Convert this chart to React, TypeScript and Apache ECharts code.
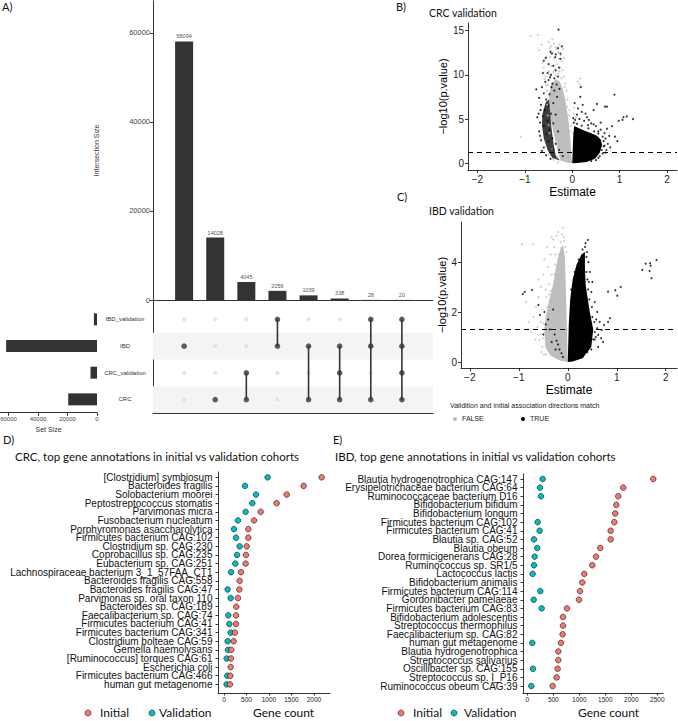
import React, { useEffect, useRef } from "react";
import * as echarts from "echarts";

// ---------- Panel A (UpSet) ----------
const intersectionSizes = [58094, 14028, 4045, 2056, 1039, 338, 28, 20];
const setNames = ["CRC", "CRC_validation", "IBD", "IBD_validation"]; // row 0 = bottom
const setSizes = [19500, 4400, 61600, 2100];
const intersectionMembers = [[2], [0], [0, 1], [2, 3], [0, 2], [0, 1, 2], [0, 2, 3], [0, 1, 2, 3]];
const barTicks = [0, 20000, 40000, 60000];
const setSizeTicks = [0, 20000, 40000, 60000];

// ---------- Panel B (CRC validation volcano) ----------
const crcGrayCore = [[0, 0], [-0.02, 1], [-0.04, 2.6], [-0.08, 4.85], [-0.14, 7], [-0.2, 8.4], [-0.26, 9.2], [-0.34, 9.5], [-0.44, 9.0], [-0.5, 7.6], [-0.45, 4.85], [-0.36, 2.6], [-0.25, 0.3], [-0.1, 0.05]];
const crcBlackLeftCore = [[-0.26, 0.3], [-0.35, 0.9], [-0.39, 2], [-0.44, 4], [-0.47, 6], [-0.49, 7.2], [-0.56, 6.9], [-0.63, 5.6], [-0.64, 4.3], [-0.6, 2.8], [-0.52, 1.5], [-0.42, 0.6]];
const crcBlackRightCore = [[0, 0], [0.01, 1.5], [0.02, 3], [0.04, 4.2], [0.12, 4.0], [0.25, 3.7], [0.4, 3.4], [0.52, 3.1], [0.6, 2.7], [0.63, 2.1], [0.58, 1.2], [0.48, 0.5], [0.3, 0.15], [0.1, 0.02]];
const crcFalsePoints = [[-0.88, 14.4], [-0.73, 14.5], [-0.5, 13.7], [-0.39, 13.5], [-0.45, 13.2], [-0.33, 12.9], [-1.09, 3.0], [0.17, 9.6], [0.16, 8.9], [0.05, 4.6], [0.08, 5.2], [0.03, 5.6], [-0.55, 12], [-0.6, 10.8], [-0.58, 9.5], [-0.55, 8.8], [-0.48, 13], [-0.42, 14], [-0.3, 12.5], [-0.22, 11.5], [-0.2, 10.5], [-0.15, 9], [-0.18, 9.8], [-0.25, 10.8], [-0.32, 11.2], [-0.38, 11.8], [-0.44, 11], [-0.5, 10.4], [-0.28, 11.8], [-0.36, 10.6], [-0.41, 12.5], [-0.24, 12.2], [-0.12, 8.2], [-0.1, 7.2], [-0.06, 6], [-0.53, 8.2], [-0.56, 9.8], [-0.47, 12], [-0.35, 13.1], [-0.27, 13.4], [-0.62, 11.4], [0.02, 3.4], [0.04, 6.3], [0.12, 9.2], [-0.03, 4.2], [-0.7, 12.8], [-0.65, 13.4], [-0.2, 12.9], [-0.18, 11.9], [-0.5, 1.0], [-0.4, 0.4], [-0.3, 0.1], [-0.46, 9.9], [-0.4, 10.3], [-0.3, 10.1], [-0.23, 9.6], [-0.52, 8.9], [-0.35, 9.9], [-0.27, 10.4], [-0.16, 8.6], [-0.48, 3.4], [-0.5, 4.3], [-0.52, 5.4], [-0.53, 6.6], [-0.42, 1.6], [-0.32, 0.7], [-0.07, 5.4], [-0.05, 3.6], [-0.11, 6.4]];
const crcTruePoints = [[-0.29, 15.1], [-0.46, 12.6], [-0.36, 12.0], [-0.6, 11.6], [-0.25, 12.4], [-0.22, 13.2], [-0.76, 8.35], [-0.67, 6.0], [-0.74, 5.2], [0.17, 7.5], [0.18, 8.6], [0.89, 7.75], [0.73, 6.4], [0.69, 6.4], [0.52, 6.7], [0.45, 6.0], [1.08, 5.2], [1.15, 5.3], [1.28, 5.0], [0.98, 4.8], [1.06, 4.9], [0.73, 3.9], [0.84, 4.2], [0.31, 5.2], [-0.4, 11], [-0.35, 10.5], [-0.45, 10], [-0.5, 9.4], [-0.3, 9.8], [-0.42, 9], [-0.38, 8.2], [-0.48, 7.8], [-0.55, 7.2], [-0.32, 7.5], [-0.4, 6.8], [-0.5, 6.5], [-0.58, 6], [-0.45, 5.6], [-0.35, 5.5], [-0.62, 5.3], [-0.52, 4.8], [-0.4, 4.5], [-0.6, 4.2], [-0.48, 3.8], [-0.3, 3.6], [-0.55, 3.3], [-0.42, 2.8], [-0.35, 2.2], [-0.5, 2.5], [-0.28, 1.5], [-0.4, 1.6], [-0.2, 0.8], [-0.25, 11.8], [-0.35, 12.3], [-0.28, 10.8], [-0.3, 13], [-0.43, 12.4], [-0.5, 11.2], [-0.33, 8.9], [-0.27, 8.4], [-0.44, 8.6], [-0.52, 10.2], [-0.7, 7.4], [-0.64, 8.6], [-0.68, 4.6], [-0.7, 3.6], [-0.66, 2.6], [-0.6, 1.8], [-0.66, 6.6], [-0.6, 7.9], [-0.57, 9.2], [-0.62, 10.2], [-0.47, 9.7], [-0.38, 9.6], [-0.56, 11.9], [-0.68, 3.1], [-0.71, 5.6], [-0.64, 1.4], [-0.55, 0.9], [-0.46, 0.5], [0.7, 2.8], [0.75, 2.2], [0.8, 1.8], [0.68, 3.4], [0.6, 3.8], [0.5, 4.2], [0.4, 4.5], [0.25, 4.8], [0.15, 5], [0.1, 5.5], [0.2, 5.8], [0.35, 4.9], [0.55, 3.6], [0.62, 1.5], [0.7, 1.2], [0.58, 0.8], [0.9, 3], [0.95, 2.5], [0.12, 6.2], [0.22, 6.6], [0.28, 5.6], [0.05, 6.8], [0.6, 4.6], [0.78, 3.1], [0.45, 4.4], [0.33, 4.3], [0.06, 4.9], [0.66, 1.9], [0.72, 1.5], [0.66, 2.5], [0.64, 3.0], [0.55, 3.35], [0.46, 3.6], [0.34, 3.95], [0.2, 4.25], [0.1, 4.45], [0.03, 4.6], [0.68, 2.0], [0.64, 1.1], [0.55, 0.6], [0.5, 0.35], [0.4, 0.25], [0.02, 5.1]];

// ---------- Panel C (IBD validation volcano) ----------
const ibdGrayCore = [[0, 0], [-0.02, 1.5], [-0.04, 3], [-0.06, 4.2], [-0.1, 4.7], [-0.16, 4.45], [-0.23, 3.9], [-0.3, 3.1], [-0.39, 2.4], [-0.45, 1.8], [-0.48, 1.3], [-0.46, 0.6], [-0.35, 0.25], [-0.15, 0.05]];
const ibdBlackCore = [[0, 0], [0.02, 1.5], [0.05, 2.5], [0.1, 3.3], [0.18, 3.9], [0.28, 4.3], [0.35, 4.4], [0.35, 3.7], [0.37, 3.0], [0.45, 2.0], [0.52, 1.3], [0.48, 0.6], [0.3, 0.15], [0.1, 0.02]];
const ibdFalsePoints = [[-0.1, 5.37], [-0.94, 4.7], [-0.71, 4.7], [-0.33, 5.0], [-0.23, 5.05], [-0.15, 4.8], [-0.28, 4.6], [-0.35, 4.3], [-0.4, 3.8], [-0.5, 3.5], [-0.55, 3.0], [-0.6, 2.6], [-0.65, 2.2], [-0.7, 1.8], [-0.62, 1.4], [-0.75, 1.2], [-0.8, 1.6], [-0.58, 0.9], [-0.52, 0.6], [-0.45, 0.3], [-0.85, 2.4], [-0.48, 4.1], [-0.3, 4.9], [-0.2, 5.2], [-0.6, 3.3], [-0.45, 2.9], [-0.05, 4.6], [-0.12, 5.1], [-0.08, 5.0], [-0.18, 4.3], [-0.26, 3.9], [-0.33, 3.5], [-0.38, 3.1], [-0.44, 2.6], [-0.52, 2.1], [-0.55, 1.6], [-0.56, 1.1], [-0.54, 0.4], [-0.66, 0.9], [-0.42, 4.6], [-0.25, 4.3], [-0.38, 2.7], [-0.14, 4.55], [-0.2, 4.1], [-0.27, 3.5], [-0.35, 2.85], [-0.42, 2.2], [-0.5, 1.55], [-0.51, 0.95], [-0.49, 0.3], [-0.03, 4.4], [-0.07, 4.85]];
const ibdTruePoints = [[-0.92, 2.72], [-0.88, 2.8], [-0.73, 2.88], [0.82, 2.81], [0.97, 2.87], [1.08, 3.0], [1.01, 2.65], [1.59, 3.93], [1.68, 3.95], [1.81, 4.08], [1.52, 3.68], [1.67, 3.64], [1.71, 3.35], [1.69, 3.85], [0.86, 1.75], [0.82, 1.6], [0.74, 1.48], [0.69, 1.28], [0.62, 1.08], [0.72, 0.8], [0.41, 4.88], [0.35, 4.6], [-0.6, 2.28], [-0.57, 1.88], [-0.4, 1.7], [-0.37, 1.3], [-0.27, 1.1], [-0.2, 0.7], [-0.13, 0.35], [0.3, 4.5], [0.38, 4.2], [0.42, 4.0], [0.45, 3.6], [0.5, 3.2], [0.48, 2.8], [0.55, 2.4], [0.6, 2.0], [0.58, 1.7], [0.65, 1.6], [0.52, 0.9], [0.48, 0.5], [0.3, 0.2], [0.25, 3.9], [0.2, 3.5], [0.33, 3.8], [0.4, 3.3], [0.44, 2.5], [0.55, 1.2], [0.62, 0.6], [-0.45, 1.5], [-0.5, 1.1], [-0.33, 0.8], [-0.25, 0.5], [-0.3, 2.1], [-0.48, 2.0], [0.39, 4.4], [0.36, 4.75], [0.43, 3.2], [0.5, 1.8], [0.57, 1.0], [-0.1, 0.2], [-0.17, 0.5], [-0.23, 0.85], [0.68, 0.95], [0.6, 1.35], [0.38, 3.6], [0.41, 2.9], [0.49, 2.2], [0.54, 1.6], [0.55, 0.9], [0.22, 4.1], [0.14, 3.6], [0.07, 2.9], [0.4, 0.4]];

// ---------- Panel D ----------
const crcNames = ["[Clostridium] symbiosum", "Bacteroides fragilis", "Solobacterium moorei", "Peptostreptococcus stomatis", "Parvimonas micra", "Fusobacterium nucleatum", "Porphyromonas asaccharolytica", "Firmicutes bacterium CAG:102", "Clostridium sp. CAG:230", "Coprobacillus sp. CAG:235", "Eubacterium sp. CAG:251", "Lachnospiraceae bacterium 3_1_57FAA_CT1", "Bacteroides fragilis CAG:558", "Bacteroides fragilis CAG:47", "Parvimonas sp. oral taxon 110", "Bacteroides sp. CAG:189", "Faecalibacterium sp. CAG:74", "Firmicutes bacterium CAG:41", "Firmicutes bacterium CAG:341", "Clostridium bolteae CAG:59", "Gemella haemolysans", "[Ruminococcus] torques CAG:61", "Escherichia coli", "Firmicutes bacterium CAG:466", "human gut metagenome"];
const crcInitial = [2170, 1770, 1393, 1170, 815, 667, 541, 541, 504, 489, 481, 378, 348, 341, 311, 274, 267, 267, 244, 215, 163, 156, 148, 141, 133];
const crcValidation = [970, 467, 711, 630, 481, 311, 222, 267, 348, 289, 252, 156, null, 81, 148, null, 96, 119, 148, 81, 89, 59, null, 74, 59];
const crcCountTicks = [0, 500, 1000, 1500, 2000];

// ---------- Panel E ----------
const ibdNames = ["Blautia hydrogenotrophica CAG:147", "Erysipelotrichaceae bacterium CAG:64", "Ruminococcaceae bacterium D16", "Bifidobacterium bifidum", "Bifidobacterium longum", "Firmicutes bacterium CAG:102", "Firmicutes bacterium CAG:41", "Blautia sp. CAG:52", "Blautia obeum", "Dorea formicigenerans CAG:28", "Ruminococcus sp. SR1/5", "Lactococcus lactis", "Bifidobacterium animalis", "Firmicutes bacterium CAG:114", "Gordonibacter pamelaeae", "Firmicutes bacterium CAG:83", "Bifidobacterium adolescentis", "Streptococcus thermophilus", "Faecalibacterium sp. CAG:82", "human gut metagenome", "Blautia hydrogenotrophica", "Streptococcus salivarius", "Oscillibacter sp. CAG:155", "Streptococcus sp. I_P16", "Ruminococcus obeum CAG:39"];
const ibdInitial = [2423, 1846, 1750, 1712, 1692, 1673, 1603, 1603, 1404, 1321, 1250, 1096, 1058, 1013, 994, 763, 686, 686, 679, 647, 596, 596, 583, 564, 487];
const ibdValidation = [295, 244, 263, null, null, 199, 237, 128, 192, 141, 128, 103, null, 250, 122, 276, null, null, null, 96, null, null, 109, null, 77];
const ibdCountTicks = [0, 500, 1000, 1500, 2000, 2500];

const volcanoXTicks = [-2, -1, 0, 1, 2];
const crcYTicks = [0, 5, 10, 15];
const ibdYTicks = [0, 2, 4];

const FONT = "'Liberation Sans', Arial, sans-serif";
const TFONT = "Lato, 'Liberation Sans', sans-serif";
const RED = "#F8766D";
const TEAL = "#00BFC4";
const GRAY = "#bebebe";

const minus = (v: number) => (v < 0 ? "\u2212" + Math.abs(v) : String(v));
const plain = (v: number) => String(v);

function polygonSeries(idx: number, poly: number[][], color: string, z: number) {
  return {
    type: "custom",
    xAxisIndex: idx,
    yAxisIndex: idx,
    data: [[0, 0]],
    silent: true,
    clip: true,
    z,
    renderItem: (_p: any, api: any) => ({
      type: "polygon",
      shape: { points: poly.map((pt) => api.coord(pt)) },
      style: { fill: color },
    }),
  };
}

function volcanoAxes(idx: number, xr: [number, number], yr: [number, number], yTicks: number[], yGap: number) {
  const line = { show: true, lineStyle: { color: "#000", width: 0.8 } };
  const tick = { show: true, length: 3, lineStyle: { color: "#000", width: 0.8 } };
  return {
    x: {
      gridIndex: idx, type: "value", min: xr[0], max: xr[1],
      axisLine: { ...line, onZero: false }, axisTick: { ...tick, customValues: volcanoXTicks },
      axisLabel: { customValues: volcanoXTicks, formatter: minus, fontFamily: FONT, fontSize: 10, color: "#222", margin: 4 },
      splitLine: { show: false },
      name: "Estimate", nameLocation: "middle", nameGap: 16,
      nameTextStyle: { fontFamily: FONT, fontSize: 12, color: "#000" },
    },
    y: {
      gridIndex: idx, type: "value", min: yr[0], max: yr[1],
      axisLine: { ...line, onZero: false }, axisTick: { ...tick, customValues: yTicks },
      axisLabel: { customValues: yTicks, formatter: minus, fontFamily: FONT, fontSize: 10, color: "#222", margin: 4 },
      splitLine: { show: false },
      name: "\u2212log10(p.value)", nameLocation: "middle", nameGap: yGap, nameRotate: 90,
      nameTextStyle: { fontFamily: FONT, fontSize: 11, color: "#000" },
    },
  };
}

function dotAxes(idx: number, xr: [number, number], yr: [number, number], names: string[], ticks: number[]) {
  const line = { show: true, lineStyle: { color: "#000", width: 0.8 } };
  const tick = { show: true, length: 2.5, lineStyle: { color: "#000", width: 0.8 } };
  const idxs = names.map((_n, i) => i);
  return {
    x: {
      gridIndex: idx, type: "value", min: xr[0], max: xr[1],
      axisLine: { ...line, onZero: false }, axisTick: { ...tick, customValues: ticks },
      axisLabel: { customValues: ticks, formatter: plain, fontFamily: FONT, fontSize: 6.5, color: "#222", margin: 3 },
      splitLine: { show: false },
    },
    y: {
      gridIndex: idx, type: "value", inverse: true, min: yr[0], max: yr[1],
      axisLine: { ...line, onZero: false }, axisTick: { ...tick, customValues: idxs },
      axisLabel: { show: false },
      splitLine: { show: false },
    },
  };
}

// Category names drawn as labels anchored at the axis (x = axis minimum) for each row.
function nameLabelSeries(idx: number, names: string[], xMin: number) {
  return {
    type: "scatter", xAxisIndex: idx, yAxisIndex: idx, silent: true,
    data: names.map((n, i) => ({ value: [xMin, i], name: n })),
    symbol: "circle", symbolSize: 0.01, itemStyle: { color: "#111", opacity: 0 },
    clip: false, z: 6,
    labelLayout: { hideOverlap: false },
    label: {
      show: true, position: "left", distance: 5.5, formatter: (p: any) => p.name,
      fontFamily: FONT, fontSize: 10, color: "#111", opacity: 1,
      textBorderWidth: 0, textBorderColor: "transparent",
    },
  };
}

function dotSeries(idx: number, name: string, vals: (number | null)[], color: string) {
  const data: number[][] = [];
  vals.forEach((v, i) => { if (v !== null) data.push([v, i]); });
  return {
    type: "scatter", name, xAxisIndex: idx, yAxisIndex: idx, data,
    symbol: "circle", symbolSize: 5.6,
    itemStyle: { color, borderColor: "#111", borderWidth: 0.6, opacity: 1 },
    z: 5,
  };
}

export default function App() {
  const ref = useRef<HTMLDivElement>(null);
  useEffect(() => {
    document.body.style.margin = "0";
    if (!ref.current) return;
    const chart = echarts.init(ref.current, undefined, { renderer: "svg" });

    const inactive: number[][] = [];
    const active: number[][] = [];
    const spans: number[][] = [];
    intersectionMembers.forEach((m, c) => {
      for (let r = 0; r < setNames.length; r++) {
        if (m.includes(r)) active.push([c + 1, r]);
        else inactive.push([c + 1, r]);
      }
      spans.push([c + 1, Math.min(...m), Math.max(...m)]);
    });

    const dRange: [number, number] = [-133, 2356];
    const eRange: [number, number] = [-83, 2610];
    const B = volcanoAxes(3, [-2.2, 2.21], [-0.76, 15.85], crcYTicks, 19);
    const C = volcanoAxes(4, [-2.18, 2.23], [-0.24, 5.6], ibdYTicks, 13);
    const D = dotAxes(5, dRange, [-0.615, 25.0], crcNames, crcCountTicks);
    const E = dotAxes(6, eRange, [-0.58, 24.81], ibdNames, ibdCountTicks);

    const upLine = { show: true, lineStyle: { color: "#333", width: 1 } };

    const option: any = {
      animation: false,
      backgroundColor: "#fff",
      textStyle: { fontFamily: FONT },
      grid: [
        { left: 153, top: 1, width: 280, height: 299, containLabel: false, outerBoundsMode: "none" },
        { left: 153, top: 300, width: 280, height: 113, containLabel: false, outerBoundsMode: "none" },
        { left: 0, top: 306, width: 97, height: 106.7, containLabel: false, outerBoundsMode: "none" },
        { left: 468, top: 23, width: 209, height: 147, containLabel: false, outerBoundsMode: "none" },
        { left: 461, top: 222, width: 216, height: 146, containLabel: false, outerBoundsMode: "none" },
        { left: 218, top: 472, width: 112, height: 221, containLabel: false, outerBoundsMode: "none" },
        { left: 523, top: 474, width: 140, height: 219, containLabel: false, outerBoundsMode: "none" },
      ],
      xAxis: [
        { gridIndex: 0, type: "value", min: 0, max: 9, axisLine: { ...upLine, onZero: false }, axisTick: { show: false }, axisLabel: { show: false }, splitLine: { show: false } },
        { gridIndex: 1, type: "value", min: 0, max: 9, axisLine: { ...upLine, onZero: false }, axisTick: { show: false }, axisLabel: { show: false }, splitLine: { show: false } },
        {
          gridIndex: 2, type: "value", inverse: true, min: 0, max: 65766,
          axisLine: { ...upLine, onZero: false },
          axisTick: { show: true, length: 3, customValues: setSizeTicks, lineStyle: { color: "#333" } },
          axisLabel: { customValues: setSizeTicks, formatter: plain, fontSize: 6, color: "#444", margin: 3, showMinLabel: true, showMaxLabel: true },
          splitLine: { show: false },
          name: "Set Size", nameLocation: "middle", nameGap: 13,
          nameTextStyle: { fontSize: 7, color: "#333" },
        },
        B.x, C.x, D.x, E.x,
      ],
      yAxis: [
        {
          gridIndex: 0, type: "value", min: 0, max: 67190,
          axisLine: { ...upLine, onZero: false },
          axisTick: { show: true, length: 3, customValues: barTicks, lineStyle: { color: "#333" } },
          axisLabel: { customValues: barTicks, formatter: plain, fontSize: 7.5, color: "#444", margin: 3 },
          splitLine: { show: false },
          name: "Intersection Size", nameLocation: "middle", nameGap: 53, nameRotate: 90,
          nameTextStyle: { fontSize: 7, color: "#333" },
        },
        { gridIndex: 1, type: "value", min: -0.5, max: 3.725, axisLine: { ...upLine, onZero: false }, axisTick: { show: false }, axisLabel: { show: false }, splitLine: { show: false } },
        {
          gridIndex: 2, type: "category", data: setNames, position: "right",
          axisLine: { show: false }, axisTick: { show: false },
          axisLabel: { align: "center", margin: 28, fontSize: 6, color: "#333" },
        },
        B.y, C.y, D.y, E.y,
      ],
      series: [
        // A: intersection bars
        {
          type: "bar", xAxisIndex: 0, yAxisIndex: 0,
          data: intersectionSizes.map((v, i) => [i + 1, v]),
          barWidth: 18, itemStyle: { color: "#333" },
          label: { show: true, position: "top", fontSize: 5.5, color: "#555", distance: 2, formatter: (p: any) => String(p.value[1]) },
        },
        // A: matrix stripes + inactive dots
        {
          type: "scatter", xAxisIndex: 1, yAxisIndex: 1, data: inactive,
          symbolSize: 4, itemStyle: { color: "#dcdcdc" }, z: 3,
          markArea: {
            silent: true, itemStyle: { color: "#f4f4f4" },
            data: [[{ yAxis: -0.5 }, { yAxis: 0.5 }], [{ yAxis: 1.5 }, { yAxis: 2.5 }]],
          },
        },
        {
          type: "custom", xAxisIndex: 1, yAxisIndex: 1, data: spans, z: 4,
          encode: { x: 0, y: [1, 2] },
          renderItem: (_p: any, api: any) => {
            const a = api.coord([api.value(0), api.value(1)]);
            const b = api.coord([api.value(0), api.value(2)]);
            return { type: "line", shape: { x1: a[0], y1: a[1], x2: b[0], y2: b[1] }, style: { stroke: "#333", lineWidth: 1.6 } };
          },
        },
        { type: "scatter", xAxisIndex: 1, yAxisIndex: 1, data: active, symbolSize: 5.5, itemStyle: { color: "#333" }, z: 5 },
        // A: set size bars
        { type: "bar", xAxisIndex: 2, yAxisIndex: 2, data: setSizes, barWidth: 12, itemStyle: { color: "#333" } },

        // B
        polygonSeries(3, crcGrayCore, GRAY, 2),
        polygonSeries(3, crcBlackLeftCore, "#3c3c3c", 2),
        { type: "scatter", xAxisIndex: 3, yAxisIndex: 3, data: crcFalsePoints, symbolSize: 2, itemStyle: { color: GRAY }, z: 3 },
        polygonSeries(3, crcBlackRightCore, "#000", 4),
        {
          type: "scatter", xAxisIndex: 3, yAxisIndex: 3, data: crcTruePoints, symbolSize: 2, itemStyle: { color: "#000" }, z: 4,
          markLine: { silent: true, symbol: "none", label: { show: false }, lineStyle: { color: "#000", type: [5, 4], width: 1 }, data: [{ yAxis: 1.3 }] },
        },
        // C
        polygonSeries(4, ibdGrayCore, GRAY, 2),
        { type: "scatter", xAxisIndex: 4, yAxisIndex: 4, data: ibdFalsePoints, symbolSize: 2, itemStyle: { color: GRAY }, z: 3 },
        polygonSeries(4, ibdBlackCore, "#000", 4),
        {
          type: "scatter", xAxisIndex: 4, yAxisIndex: 4, data: ibdTruePoints, symbolSize: 2, itemStyle: { color: "#000" }, z: 4,
          markLine: { silent: true, symbol: "none", label: { show: false }, lineStyle: { color: "#000", type: [5, 4], width: 1 }, data: [{ yAxis: 1.3 }] },
        },
        // D
        nameLabelSeries(5, crcNames, dRange[0]),
        dotSeries(5, "Validation", crcValidation, TEAL),
        dotSeries(5, "Initial", crcInitial, RED),
        // E
        nameLabelSeries(6, ibdNames, eRange[0]),
        dotSeries(6, "Validation", ibdValidation, TEAL),
        dotSeries(6, "Initial", ibdInitial, RED),
      ],
      graphic: [
        { type: "text", left: 2, top: 1, style: { text: "A)", font: `11px ${TFONT}`, fill: "#111" } },
        { type: "text", left: 396, top: 1, style: { text: "B)", font: `11px ${TFONT}`, fill: "#111" } },
        { type: "text", left: 397, top: 191, style: { text: "C)", font: `11px ${TFONT}`, fill: "#111" } },
        { type: "text", left: 3, top: 434, style: { text: "D)", font: `11px ${TFONT}`, fill: "#111" } },
        { type: "text", left: 333, top: 434, style: { text: "E)", font: `11px ${TFONT}`, fill: "#111" } },
        { type: "text", left: 429, top: 7, style: { text: "CRC validation", font: `10.5px ${TFONT}`, fill: "#111" } },
        { type: "text", left: 429, top: 205, style: { text: "IBD validation", font: `10.5px ${TFONT}`, fill: "#111" } },
        { type: "text", left: 15, top: 450, style: { text: "CRC, top gene annotations in initial vs validation cohorts", font: `11.5px ${TFONT}`, fill: "#111" } },
        { type: "text", left: 335, top: 450, style: { text: "IBD, top gene annotations in initial vs validation cohorts", font: `11.5px ${TFONT}`, fill: "#111" } },
        // C legend
        { type: "text", left: 450, top: 402, style: { text: "Validition and initial association directions match", font: `7px ${FONT}`, fill: "#222" } },
        { type: "circle", shape: { cx: 455, cy: 419, r: 2 }, style: { fill: GRAY } },
        { type: "text", left: 462, top: 415, style: { text: "FALSE", font: `7px ${FONT}`, fill: "#222" } },
        { type: "circle", shape: { cx: 523, cy: 419, r: 2 }, style: { fill: "#000" } },
        { type: "text", left: 530, top: 415, style: { text: "TRUE", font: `7px ${FONT}`, fill: "#222" } },
        // D legend
        { type: "circle", shape: { cx: 88, cy: 713, r: 3 }, style: { fill: RED, stroke: "#111", lineWidth: 0.6 } },
        { type: "text", left: 100, top: 706, style: { text: "Initial", font: `12px ${TFONT}`, fill: "#111" } },
        { type: "circle", shape: { cx: 152, cy: 713, r: 3 }, style: { fill: TEAL, stroke: "#111", lineWidth: 0.6 } },
        { type: "text", left: 159, top: 706, style: { text: "Validation", font: `12px ${TFONT}`, fill: "#111" } },
        { type: "text", left: 253, top: 706, style: { text: "Gene count", font: `12px ${TFONT}`, fill: "#111" } },
        // E legend
        { type: "circle", shape: { cx: 401, cy: 713, r: 3 }, style: { fill: RED, stroke: "#111", lineWidth: 0.6 } },
        { type: "text", left: 413, top: 706, style: { text: "Initial", font: `12px ${TFONT}`, fill: "#111" } },
        { type: "circle", shape: { cx: 454, cy: 713, r: 3 }, style: { fill: TEAL, stroke: "#111", lineWidth: 0.6 } },
        { type: "text", left: 464, top: 706, style: { text: "Validation", font: `12px ${TFONT}`, fill: "#111" } },
        { type: "text", left: 578, top: 706, style: { text: "Gene count", font: `12px ${TFONT}`, fill: "#111" } },
      ],
    };
    chart.setOption(option);
    return () => chart.dispose();
  }, []);
  return <div ref={ref} style={{ width: 678, height: 721 }} />;
}
